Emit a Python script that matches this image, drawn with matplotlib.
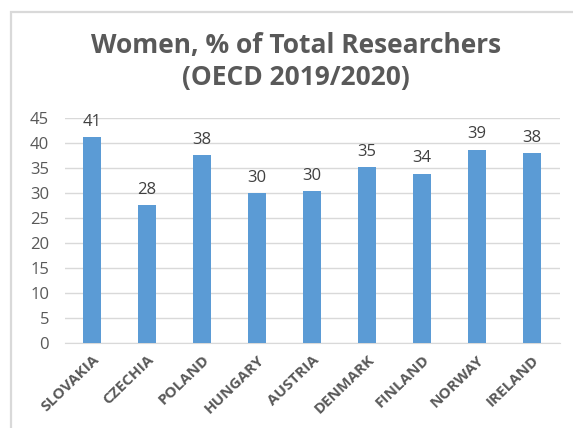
import matplotlib
matplotlib.use("Agg")
import matplotlib.pyplot as plt
from matplotlib.patches import Rectangle

countries = ["SLOVAKIA", "CZECHIA", "POLAND", "HUNGARY", "AUSTRIA",
             "DENMARK", "FINLAND", "NORWAY", "IRELAND"]
women_pct = [41.2, 27.6, 37.6, 30.0, 30.4, 35.2, 33.8, 38.6, 38.0]
yticks = [0, 5, 10, 15, 20, 25, 30, 35, 40, 45]

plt.rcParams['font.family'] = ['Open Sans', 'DejaVu Sans']
W, H = 573, 428
fig = plt.figure(figsize=(W/100, H/100), dpi=100)
fig.patch.set_facecolor('white')

# outer border of chart (top and left visible)
fig.add_artist(Rectangle((11/W, -0.05), 1.2, 1 - 12/H + 0.05, transform=fig.transFigure,
                         fill=False, edgecolor='#D9D9D9', linewidth=1.6))

ax = fig.add_axes([64.5/W, 85/H, 495/W, 225/H])
x = list(range(len(countries)))
bars = ax.bar(x, women_pct, width=0.33, color='#5B9BD5', zorder=3)
for xi, v in zip(x, women_pct):
    ax.text(xi, v + 2.3, f"{v:.0f}", ha='center', va='baseline', fontsize=12,
            color='#404040')

ax.set_xlim(-0.5, len(countries) - 0.5)
ax.set_ylim(0, 45)
ax.set_yticks(yticks)
ax.set_yticklabels([str(t) for t in yticks], fontsize=12, color='#595959')
ax.set_xticks(x)
ax.set_xticklabels(countries, rotation=44, ha='right', va='top', rotation_mode='anchor',
                   fontsize=11, fontweight='bold', color='#595959')
ax.tick_params(axis='both', length=0)
ax.tick_params(axis='y', pad=11)
ax.tick_params(axis='x', pad=7)
ax.grid(axis='y', color='#D9D9D9', linewidth=1, zorder=0)
for s in ['top', 'right', 'left']:
    ax.spines[s].set_visible(False)
ax.spines['bottom'].set_color('#D9D9D9')

fig.text(296/W, 1 - 45/H, "Women, % of Total Researchers", ha='center', va='center',
         fontsize=19, fontweight='bold', color='#595959')
fig.text(296/W, 1 - 78/H, "(OECD 2019/2020)", ha='center', va='center',
         fontsize=19, fontweight='bold', color='#595959')

fig.savefig("out.png", dpi=100)
